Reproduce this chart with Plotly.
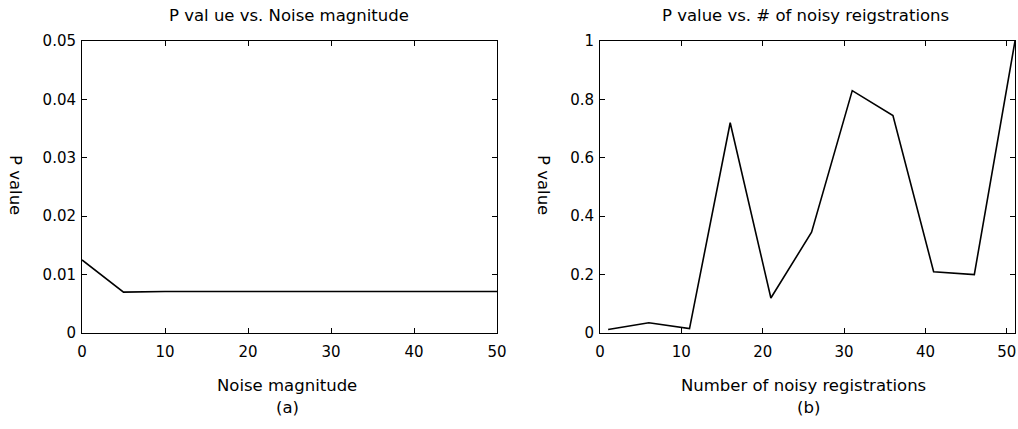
import plotly.graph_objects as go

# Panel (a)
noise_mag = [0, 5, 10, 15, 20, 25, 30, 35, 40, 45, 50]
p_noise = [0.0125, 0.0070, 0.0071, 0.0071, 0.0071, 0.0071, 0.0071, 0.0071, 0.0071, 0.0071, 0.0071]
# Panel (b)
n_noisy = [1, 6, 11, 16, 21, 26, 31, 36, 41, 46, 51]
p_count = [0.012, 0.035, 0.015, 0.72, 0.12, 0.345, 0.83, 0.745, 0.21, 0.20, 1.0]

FONT = "DejaVu Sans"
W, H = 1018, 429

def px(X):
    return X / W

def py(Y):
    return 1 - Y / H

fig = go.Figure()
fig.add_trace(go.Scatter(x=noise_mag, y=p_noise, mode="lines", cliponaxis=False,
                         line=dict(color="black", width=1.6), xaxis="x", yaxis="y"))
fig.add_trace(go.Scatter(x=n_noisy, y=p_count, mode="lines", cliponaxis=False,
                         line=dict(color="black", width=1.6), xaxis="x2", yaxis="y2"))

axcommon = dict(showline=True, linecolor="black", linewidth=1, mirror="ticks",
                ticks="inside", ticklen=5, tickcolor="black", showgrid=False,
                zeroline=False, automargin=False,
                tickfont=dict(family=FONT, size=15, color="black"))

fig.update_layout(
    width=W, height=H, margin=dict(l=0, r=0, t=0, b=0, autoexpand=False),
    paper_bgcolor="white", plot_bgcolor="white", showlegend=False,
    xaxis=dict(domain=[px(82), px(497)], range=[0, 50], tickvals=[0, 10, 20, 30, 40, 50],
               anchor="y", ticklabelstandoff=5, **axcommon),
    yaxis=dict(domain=[py(333), py(41)], range=[0, 0.05], tickvals=[0, 0.01, 0.02, 0.03, 0.04, 0.05],
               ticktext=["0", "0.01", "0.02", "0.03", "0.04", "0.05"], anchor="x",
               ticklabelstandoff=2, **axcommon),
    xaxis2=dict(domain=[px(600), px(1015)], range=[0, 51], tickvals=[0, 10, 20, 30, 40, 50],
                anchor="y2", ticklabelstandoff=5, **axcommon),
    yaxis2=dict(domain=[py(333), py(41)], range=[0, 1], tickvals=[0, 0.2, 0.4, 0.6, 0.8, 1],
                ticktext=["0", "0.2", "0.4", "0.6", "0.8", "1"], anchor="x2",
                ticklabelstandoff=2, **axcommon),
)

def txt(x, y, s, angle=0):
    fig.add_annotation(x=px(x), y=py(y), xref="paper", yref="paper", text=s,
                       showarrow=False, textangle=angle, xanchor="center", yanchor="middle",
                       font=dict(family=FONT, size=16.5, color="black"))

txt(289, 15, "P val ue vs. Noise magnitude")
txt(805, 15, "P value vs. # of noisy reigstrations")
txt(15, 185, "P value", 90)
txt(543, 185, "P value", 90)
txt(287, 385, "Noise magnitude")
txt(803, 385, "Number of noisy registrations")
txt(287, 407, "(a)")
txt(808, 407, "(b)")

fig.write_html("out.html", config={"displayModeBar": False},
               post_script="document.body.style.margin='0';document.body.style.overflow='hidden';")
